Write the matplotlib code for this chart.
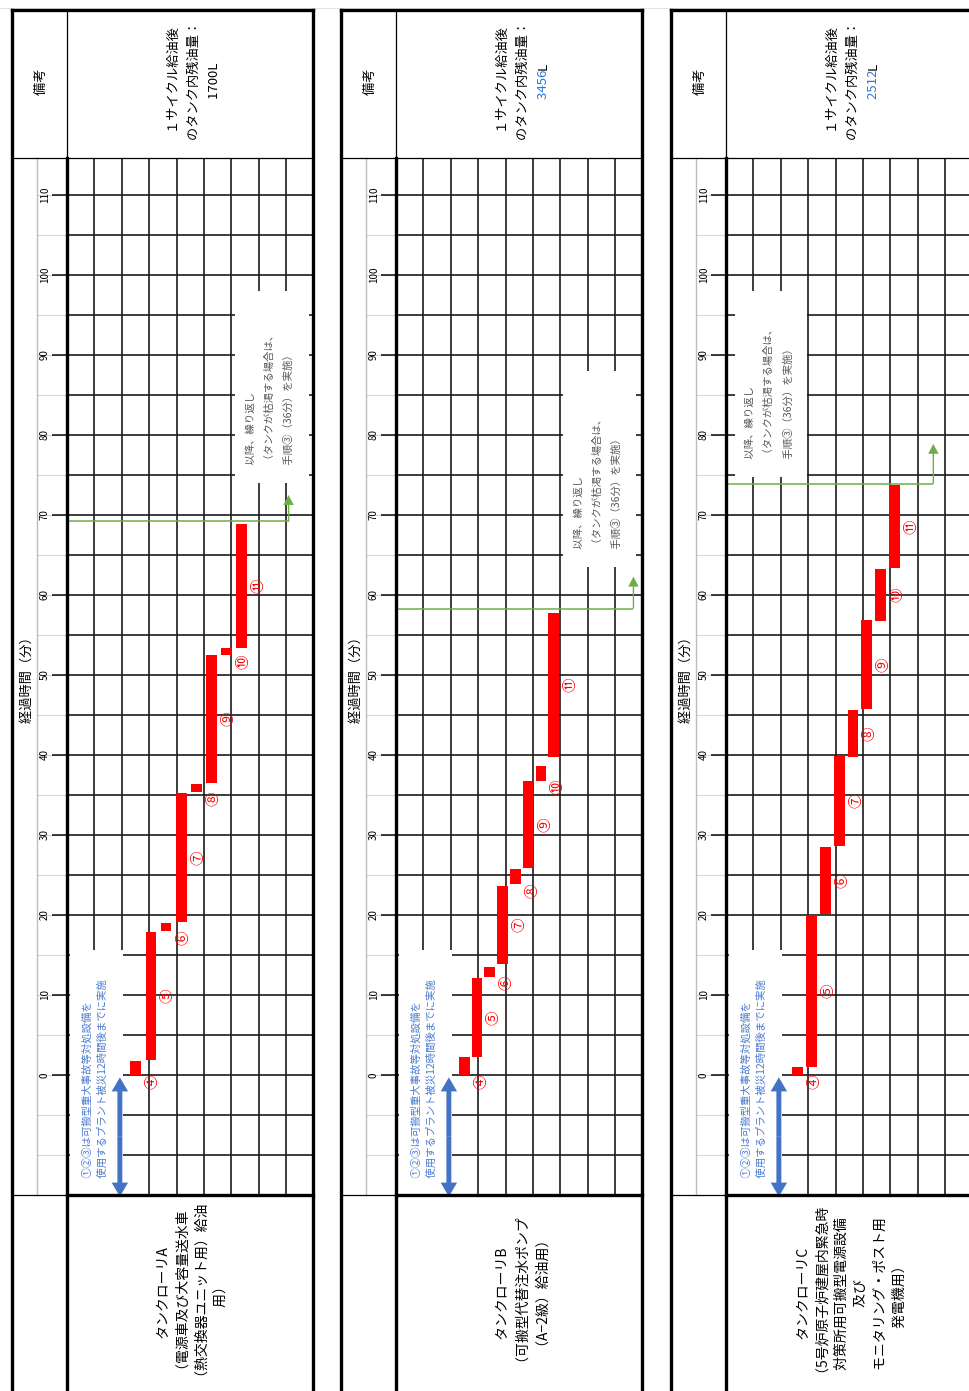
import numpy as np
import matplotlib
matplotlib.use("Agg")
import matplotlib.pyplot as plt
from matplotlib.patches import Rectangle, FancyArrow

plt.rcParams["font.family"] = ["Noto Sans CJK JP", "DejaVu Sans"]

# ---------------- data ----------------
step_labels = ["④", "⑤", "⑥", "⑦", "⑧", "⑨", "⑩", "⑪"]
minute_ticks = [0, 10, 20, 30, 40, 50, 60, 70, 80, 90, 100, 110]

starts_A = [0.0, 1.9, 18.0, 19.1, 35.4, 36.5, 52.5, 53.4]
ends_A = [1.7, 17.9, 19.0, 35.3, 36.4, 52.5, 53.4, 68.9]
starts_B = [0.0, 2.3, 12.3, 13.9, 23.9, 25.9, 36.8, 39.8]
ends_B = [2.3, 12.1, 13.5, 23.6, 25.7, 36.8, 38.6, 57.8]
starts_C = [0.0, 1.0, 20.1, 28.6, 39.8, 45.7, 56.8, 63.4]
ends_C = [1.0, 20.0, 28.5, 39.9, 45.6, 56.9, 63.2, 73.7]

cycle_end = [69.2, 58.3, 73.9]
remaining_oil = ["1700", "3456", "2512"]

lorry_A_lines = ["タンクローリA", "（電源車及び大容量送水車", "（熱交換器ユニット用）給油", "用）"]
lorry_B_lines = ["タンクローリB", "（可搬型代替注水ポンプ", "（A−2級）給油用）"]
lorry_C_lines = ["タンクローリC", "（5号炉原子炉建屋内緊急時", "対策所用可搬型電源設備",
                 "及び", "モニタリング・ポスト用", "発電機用）"]

header_lines = ["１サイクル給油後", "のタンク内残油量："]
remark_title = "備考"
axis_title = "経過時間（分）"
repeat_note = ["以降、繰り返し", "（タンクが枯渇する場合は、", "手順③（36分）を実施）"]
blue_note = ["①②③は可搬型重大事故等対処設備を", "使用するプラント被災12時間後までに実施"]

# ---------------- layout / style ----------------
W, H = 970, 1391
PANEL_DX = [0, 329, 659]
L_OUT, DIV, GRID_W = 12, 67, 246.5
R_OUT = DIV + GRID_W
TOP, HDR, GBOT = 10, 158, 1195
PX_PER_MIN = 8.0
TMIN = -15.0
TMAX = TMIN + (GBOT - HDR) / PX_PER_MIN
NCOL = 9
COL_PX = GRID_W / NCOL
ROW0 = [2.51, 2.49, 2.62]
ROW_STEP = [0.553, 0.467, 0.504]
BAR_W = 0.39
ARROW_X = [8.09, 8.67, 7.57]
ARROW_LEN = [3.3, 4.0, 5.0]
NOTE_BOX = [(6.15, 74.0, 8.82, 98.0), (6.11, 63.5, 8.78, 88.0), (0.33, 74.8, 2.96, 98.0)]
BLUE_BOX = (0.12, 2.03, 15.6)
BLUE_ARROW_X = 1.93
BOTTOM_PITCH = [19.0, 20.0, 19.2]
BOTTOM_CENTER = [191.5, 193.0, 191.5]

RED = "#FF0000"
GREEN = "#70AD47"
BLUE_ARROW = "#4472C4"
BLUE_TXT = "#4A7BD0"
NUM_BLUE = "#2F78D8"
GRAY_TXT = "#595959"
LINE = "#1A1A1A"


def base_off(fs_pt):
    """pixel offset from glyph centre to baseline for 90-degree rotated CJK text"""
    return 0.38 * fs_pt * 100 / 72


def lead(s):
    # a leading space keeps the rotated glyph bitmap from being pushed sideways
    # by the wide left bearing of full-width brackets/digits
    return " " + s


starts_all = [starts_A, starts_B, starts_C]
ends_all = [ends_A, ends_B, ends_C]
lorry_all = [lorry_A_lines, lorry_B_lines, lorry_C_lines]

fig = plt.figure(figsize=(W / 100, H / 100), dpi=100)
fig.patch.set_facecolor("white")

canvas = fig.add_axes([0, 0, 1, 1], zorder=5)
canvas.set_xlim(0, W)
canvas.set_ylim(H, 0)
canvas.axis("off")
canvas.patch.set_alpha(0)

canvas.plot([0, W], [8, 8], color="#E2E2E2", lw=0.8, zorder=0)


def fx(px):
    return px / W


def fy(py):
    return 1 - py / H


rot = dict(rotation=90, rotation_mode="anchor", va="baseline")

for p in range(3):
    dx = PANEL_DX[p]
    starts = np.array(starts_all[p])
    ends = np.array(ends_all[p])

    # left column (light gray 5-min lines)
    lax = fig.add_axes([fx(37 + dx), fy(GBOT), 30 / W, (GBOT - HDR) / H], zorder=1)
    lax.set_xlim(0, 1)
    lax.set_ylim(TMIN, TMAX)
    lax.patch.set_alpha(0)
    for side in ["top", "right", "bottom"]:
        lax.spines[side].set_visible(False)
    lax.spines["left"].set_color("#BDBDBD")
    lax.spines["left"].set_linewidth(1.0)
    lax.set_xticks([])
    lax.set_yticks([])
    lax.hlines(np.arange(-10, 111, 5), 0, 1, color="#D6D6D6", lw=0.8)

    # grid axes
    ax = fig.add_axes([fx(DIV + dx), fy(GBOT), GRID_W / W, (GBOT - HDR) / H], zorder=2)
    ax.set_xlim(0, NCOL)
    ax.set_ylim(TMIN, TMAX)
    ax.patch.set_alpha(0)
    for s in ax.spines.values():
        s.set_visible(False)
    ax.set_xticks([])
    ax.set_yticks(minute_ticks)
    ax.set_yticklabels([str(v) for v in minute_ticks], rotation=90, va="center", ha="right", fontsize=7)
    ax.tick_params(axis="y", length=11, width=1.2, color=LINE, pad=1.5)

    ax.vlines(np.arange(1, NCOL), TMIN, TMAX, color=LINE, lw=1.2, zorder=1)
    ax.hlines(np.arange(-10, 111, 5), 0, NCOL, color=LINE, lw=1.2, zorder=1)

    # white boxes (notes)
    bx0, bt0, bx1, bt1 = NOTE_BOX[p]
    ax.add_patch(Rectangle((bx0, bt0), bx1 - bx0, bt1 - bt0, fc="white", ec="none", zorder=2))
    ax.add_patch(Rectangle((BLUE_BOX[0], TMIN), BLUE_BOX[1] - BLUE_BOX[0], BLUE_BOX[2] - TMIN,
                           fc="white", ec="none", zorder=2))

    # repeat note text
    off = base_off(7.5) / COL_PX
    for i, line in enumerate(repeat_note):
        ax.text(bx0 + 0.52 + 0.70 * i + off, bt0 + 2.0, lead(line), ha="left",
                fontsize=7.5, color=GRAY_TXT, zorder=4, **rot)

    # blue note
    for i, line in enumerate(blue_note):
        ax.text(0.73 + 0.55 * i + off, -13.1, lead(line), ha="left",
                fontsize=7.5, color=BLUE_TXT, zorder=4, **rot)

    # blue double arrow
    mid = (-0.3 + TMIN) / 2
    for tip in (-0.3, TMIN - 0.2):
        ax.add_patch(FancyArrow(BLUE_ARROW_X, mid, 0, tip - mid, width=0.18, head_width=0.6,
                                head_length=1.75, length_includes_head=True,
                                color=BLUE_ARROW, lw=0, zorder=4, clip_on=False))

    # bars
    pos = ROW0[p] + ROW_STEP[p] * np.arange(len(step_labels))
    ax.bar(pos, ends - starts, bottom=starts, width=BAR_W, color=RED, zorder=3)

    # step labels
    for x, s0, s1, lab in zip(pos, starts, ends, step_labels):
        ty = (s0 + s1) / 2 if (s1 - s0) > 3 else s0 - 0.8
        ax.text(x + 0.62, ty, lab, rotation=90, ha="center", va="center",
                fontsize=10.5, color=RED, zorder=4)

    # green repeat line
    g = cycle_end[p]
    ax.plot([0, ARROW_X[p]], [g, g], color=GREEN, lw=1.1, zorder=4, solid_capstyle="butt")
    ax.add_patch(FancyArrow(ARROW_X[p], g, 0, ARROW_LEN[p], width=0.05, head_width=0.38,
                            head_length=1.25, length_includes_head=True,
                            color=GREEN, lw=0, zorder=4))

    # ---- frame lines (canvas) ----
    Lx, Dx, Rx = L_OUT + dx, DIV + dx, R_OUT + dx
    thick, thin = 2.4, 0.9
    kw = dict(color="black", solid_capstyle="projecting")
    canvas.plot([Lx, Lx], [TOP, H + 5], lw=thick, **kw)
    canvas.plot([Rx, Rx], [TOP, H + 5], lw=thick, **kw)
    canvas.plot([Lx, Rx], [TOP, TOP], lw=thick, **kw)
    canvas.plot([Dx, Dx], [TOP, HDR], lw=thin, **kw)
    canvas.plot([Dx, Dx], [HDR, H + 5], lw=thick, **kw)
    canvas.plot([Lx, Rx], [HDR, HDR], lw=thin, **kw)
    canvas.plot([Dx, Rx], [GBOT, GBOT], lw=thick, **kw)
    canvas.plot([Lx, Dx], [GBOT, GBOT], lw=thin, **kw)

    # header texts
    fs_h = 9.5
    canvas.text(40 + dx + base_off(fs_h), 83, lead(remark_title), ha="center", fontsize=fs_h, **rot)
    for i, line in enumerate(header_lines):
        canvas.text(173 + dx + 20 * i + base_off(fs_h), 82, lead(line), ha="center", fontsize=fs_h, **rot)
    x3 = 213 + dx + base_off(fs_h)
    if p == 0:
        canvas.text(x3, 82, lead(remaining_oil[p] + "L"), ha="center", fontsize=fs_h, **rot)
    else:
        tnum = canvas.text(x3, 102.5, lead(remaining_oil[p]), ha="left", fontsize=fs_h,
                           color=NUM_BLUE, **rot)
        canvas.annotate("L", xy=(0.5, 1.0), xycoords=tnum, rotation=90, rotation_mode="anchor",
                        ha="left", va="center", fontsize=fs_h, color="black")

    # axis title
    canvas.text(26 + dx + base_off(fs_h), 678, lead(axis_title), ha="center", fontsize=fs_h, **rot)

    # bottom lorry description
    lines = lorry_all[p]
    n = len(lines)
    for i, line in enumerate(lines):
        cx = BOTTOM_CENTER[p] + dx + (i - (n - 1) / 2) * BOTTOM_PITCH[p]
        canvas.text(cx + base_off(10), 1295, lead(line), ha="center", fontsize=10, **rot)

fig.savefig("out.png", dpi=100, facecolor="white")
